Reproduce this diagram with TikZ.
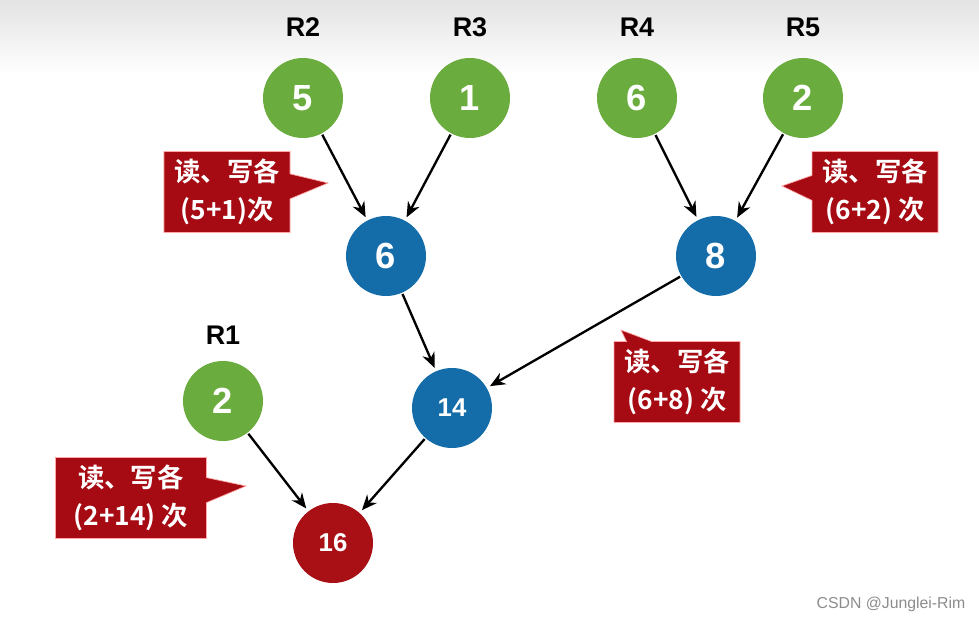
\documentclass[tikz,border=0pt]{standalone}
\usepackage{fontspec}
\setmainfont{Liberation Sans}
\newfontfamily\cjk{Noto Sans CJK SC}[BoldFont={Noto Sans CJK SC Bold}]
\usetikzlibrary{arrows.meta,shapes.callouts,positioning}

\begin{document}
\begin{tikzpicture}[x=0.03cm,y=-0.03cm]
  % Colors
  \definecolor{leafcolor}{RGB}{106,172,62}
  \definecolor{mergecolor}{RGB}{20,108,168}
  \definecolor{rootcolor}{RGB}{168,16,22}
  \definecolor{notecolor}{RGB}{166,10,18}

  % Styles
  \tikzstyle{run}=[circle,minimum size=2.4cm,inner sep=0pt,text=white,
    font=\fontsize{31}{31}\selectfont\bfseries]
  \tikzstyle{leaf}=[run,fill=leafcolor]
  \tikzstyle{merged}=[run,fill=mergecolor]
  \tikzstyle{small}=[font=\fontsize{22}{22}\selectfont\bfseries]
  \tikzstyle{runname}=[font=\fontsize{23}{23}\selectfont\bfseries]
  \tikzstyle{note}=[rectangle callout,fill=notecolor,draw=red!35,line width=0.6pt,
    text=white,align=center,minimum width=3.78cm,minimum height=2.43cm,
    inner sep=2pt,callout pointer width=0.75cm,
    font=\cjk\fontsize{22.5}{32}\selectfont\bfseries]
  \tikzstyle{flow}=[line width=2pt,-{Stealth[length=13pt,width=11pt]},shorten >=3pt,shorten <=1pt]

  % The graphic
  \useasboundingbox (0,0) rectangle (979,623);
  \shade[top color=black!11,bottom color=white] (0,0) rectangle (979,75);

  % leaves
  \node[leaf] (r2) at (303,98) {5};
  \node[leaf] (r3) at (470,98) {1};
  \node[leaf] (r4) at (637,98) {6};
  \node[leaf] (r5) at (803,98) {2};
  \node[leaf] (r1) at (223,401) {2};
  \node[runname] at (303,27) {R2};
  \node[runname] at (470,27) {R3};
  \node[runname] at (637,27) {R4};
  \node[runname] at (803,27) {R5};
  \node[runname] at (223,335) {R1};

  % merges
  \node[merged] (m6) at (386,256) {6};
  \node[merged] (m8) at (716,256) {8};
  \node[merged,small] (m14) at (452,408) {14};
  \node[run,small,fill=rootcolor] (m16) at (333,543) {16};

  \draw[flow] (r2) -- (m6);
  \draw[flow] (r3) -- (m6);
  \draw[flow] (r4) -- (m8);
  \draw[flow] (r5) -- (m8);
  \draw[flow] (m6) -- (m14);
  \draw[flow] (m8) -- (m14);
  \draw[flow] (r1) -- (m16);
  \draw[flow] (m14) -- (m16);

  % notes
  \node[note,callout absolute pointer={(328,183)}] (n1) at (227,192) {读、写各\\(5+1)次};
  \node[note,callout absolute pointer={(782,186)}] (n2) at (875,192) {读、写各\\(6+2) 次};
  \node[note,callout absolute pointer={(621,330)}] (n3) at (677,382) {读、写各\\(6+8) 次};
  \node[note,minimum width=4.53cm,callout absolute pointer={(246,486)}] (n4) at (131,498) {读、写各\\(2+14) 次};

  \node[text=black!45,font=\fontsize{13.5}{13.5}\selectfont] (mark) at (891,604) {CSDN @Junglei-Rim};
\end{tikzpicture}
\end{document}
